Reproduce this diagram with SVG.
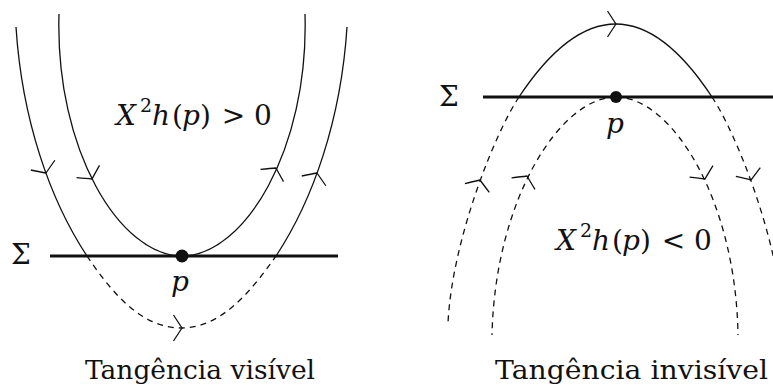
<svg xmlns="http://www.w3.org/2000/svg" xmlns:xlink="http://www.w3.org/1999/xlink" width="773" height="387" viewBox="0 0 773 387">
<style>
.c{fill:none;stroke:#111;stroke-width:1.3}
.d{fill:none;stroke:#111;stroke-width:1.3;stroke-dasharray:6 5}
.s{fill:none;stroke:#111;stroke-width:3.2}
.ah{fill:none;stroke:#111;stroke-width:1.3}
text{font-family:'DejaVu Serif','Liberation Serif',serif;font-size:28px;fill:#111}
.i{font-style:italic}
.m{text-anchor:middle}
.sup{font-size:19px}
.cap{font-size:26px}
</style>
<defs>
<path id="ah" d="M-8.5,-13 Q-3,-4.5 0,0 Q-3,4.5 -8.5,13"/>
</defs>
<rect width="773" height="387" fill="#fff"/>

<g id="visible">
  <g id="left-sigma-line"><path class="s" d="M50,256 H338"/></g>
  <g id="left-curves">
    <path class="c" d="M59,14 C55,150 120,256 182,256 C244,256 309,150 305,14"/>
    <path class="c" d="M16,27 C22,120 50,200 87,256"/>
    <path class="d" d="M87,256 C110,290 140,328 181,328 C222,328 252,290 276,256"/>
    <path class="c" d="M276,256 C313,200 341,120 347,27"/>
  </g>
  <g id="left-arrows" class="ah">
    <use xlink:href="#ah" transform="translate(46,173) rotate(68)"/>
    <use xlink:href="#ah" transform="translate(92,179) rotate(62)"/>
    <use xlink:href="#ah" transform="translate(276,168) rotate(-62)"/>
    <use xlink:href="#ah" transform="translate(317,173) rotate(-68)"/>
    <use xlink:href="#ah" transform="translate(182,328) rotate(0)"/>
  </g>
  <g id="left-p-node"><circle cx="182" cy="256" r="6.5" fill="#111"/></g>
  <g id="left-labels">
    <text x="11" y="264">Σ</text>
    <text class="i m" x="180" y="291">p</text>
    <text class="i m" x="126" y="125">X</text>
    <text class="m sup" x="146" y="112">2</text>
    <text class="i m" x="161" y="125">h</text>
    <text class="m" x="177.5" y="125">(</text>
    <text class="i m" x="191" y="125">p</text>
    <text class="m" x="205.5" y="125">)</text>
    <text class="m" x="233.5" y="125">&gt;</text>
    <text class="m" x="263" y="125">0</text>
    <text class="cap" x="85" y="379" textLength="230" lengthAdjust="spacingAndGlyphs">Tangência visível</text>
  </g>
</g>

<g id="invisible">
  <g id="right-sigma-line"><path class="s" d="M483,97 H773"/></g>
  <g id="right-curves">
    <path class="c" d="M519,97 Q616,-49 712,97"/>
    <path class="d" d="M519,97 C495,133 452,240 448,323"/>
    <path class="d" d="M712,97 C736,133 779,240 783,323"/>
    <path class="d" d="M616,97 C560,97 495,200 492,335"/>
    <path class="d" d="M616,97 C672,97 736,200 738,335"/>
  </g>
  <g id="right-arrows" class="ah">
    <use xlink:href="#ah" transform="translate(616,24) rotate(0)"/>
    <use xlink:href="#ah" transform="translate(480,180) rotate(-70)"/>
    <use xlink:href="#ah" transform="translate(527,176) rotate(-64)"/>
    <use xlink:href="#ah" transform="translate(705,179) rotate(64)"/>
    <use xlink:href="#ah" transform="translate(751,180) rotate(70)"/>
  </g>
  <g id="right-p-node"><circle cx="616" cy="97" r="6" fill="#111"/></g>
  <g id="right-labels">
    <text x="439" y="106">Σ</text>
    <text class="i m" x="615" y="133">p</text>
    <text class="i m" x="566" y="250">X</text>
    <text class="m sup" x="586" y="237">2</text>
    <text class="i m" x="601" y="250">h</text>
    <text class="m" x="617.5" y="250">(</text>
    <text class="i m" x="631" y="250">p</text>
    <text class="m" x="645.5" y="250">)</text>
    <text class="m" x="673.5" y="250">&lt;</text>
    <text class="m" x="703" y="250">0</text>
    <text class="cap" x="495" y="379" textLength="273" lengthAdjust="spacingAndGlyphs">Tangência invisível</text>
  </g>
</g>
</svg>
